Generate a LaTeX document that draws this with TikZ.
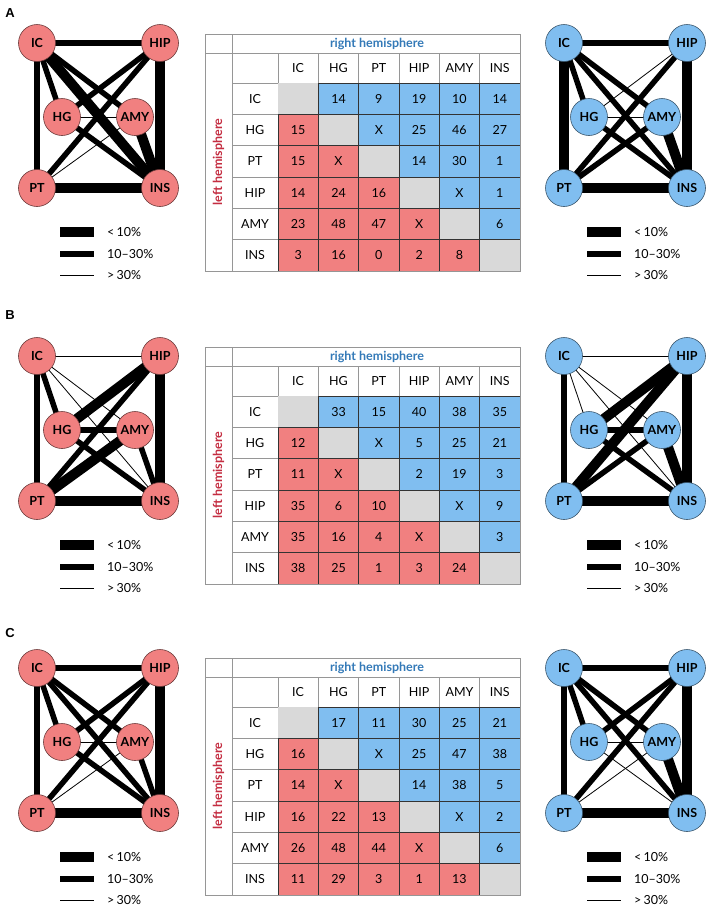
\documentclass[tikz,border=0pt]{standalone}
\usepackage{fontspec}
\setmainfont{Lato}
\newfontfamily\pfont{Liberation Sans}
\definecolor{nred}{RGB}{241,128,128}
\definecolor{nblue}{RGB}{128,190,240}
\definecolor{cgray}{RGB}{217,217,217}
\definecolor{tred}{RGB}{196,45,65}
\definecolor{tblue}{RGB}{52,122,184}
\definecolor{gline}{RGB}{150,150,150}
\tikzset{
  brain/.style={circle, minimum size=37pt, inner sep=0pt, font=\bfseries\fontsize{12.5}{14}\selectfont, draw=#1!45!black, fill=#1, line width=0.6pt},
  wA/.style={line width=10pt},
  wB/.style={line width=5.5pt},
  wC/.style={line width=0.8pt},
  celltext/.style={font=\fontsize{12.5}{14}\selectfont, inner sep=0pt},
  legtext/.style={font=\fontsize{12.5}{14}\selectfont, anchor=west, inner sep=0pt},
  plabel/.style={font=\pfont\bfseries\fontsize{13}{15}\selectfont, inner sep=0pt},
}
% #1 prefix, #2 dx, #3 dy, #4 colour, #5 edges
\newcommand\brainnet[5]{%
  \begin{scope}[shift={(#2,#3)}]
    \coordinate (#1IC) at (37,43);
    \coordinate (#1HIP) at (160,43);
    \coordinate (#1HG) at (62,117);
    \coordinate (#1AMY) at (135,117);
    \coordinate (#1PT) at (37,188);
    \coordinate (#1INS) at (160,188);
    \foreach \a/\b/\w in {#5} {\draw[\w] (#1\a) -- (#1\b);}
    \foreach \n in {IC,HIP,HG,AMY,PT,INS} {\node[brain=#4] (#1n\n) at (#1\n) {\n};}
    \coordinate (#1la) at (60,232);
    \coordinate (#1lb) at (94,232);
    \coordinate (#1ma) at (60,254);
    \coordinate (#1mb) at (94,254);
    \coordinate (#1sa) at (60,275);
    \coordinate (#1sb) at (94,275);
    \draw[line width=10pt] (#1la) -- (#1lb);
    \draw[line width=5.5pt] (#1ma) -- (#1mb);
    \draw[line width=0.8pt] (#1sa) -- (#1sb);
    \node[legtext] (#1lt1) at (107,232) {<\,10\%};
    \node[legtext] (#1lt2) at (107,254) {10--30\%};
    \node[legtext] (#1lt3) at (107,275) {>\,30\%};
  \end{scope}}
% #1 prefix, #2 dy, #3 rows
\newcommand\cmtable[3]{%
  \begin{scope}[shift={(0,#2)}]
    \foreach [count=\r] \row in {#3} {
      \foreach [count=\c] \v in \row {
        \pgfmathsetmacro\xa{278+(\c-1)*40.33}
        \pgfmathsetmacro\ya{83+(\r-1)*31.33}
        \ifnum\c>\r \def\cc{nblue}\else\ifnum\c<\r \def\cc{nred}\else\def\cc{cgray}\fi\fi
        \fill[\cc] (\xa,\ya) rectangle ++(40.33,31.33);
        \node[celltext] (#1t\r\c) at (\xa+20.17,\ya+15.67) {\ifnum\c=\r\else\v\fi};
      }
    }
    \foreach \r in {1,...,6} {
      \foreach \c in {1,...,6} {
        \pgfmathsetmacro\xa{278+(\c-1)*40.33}
        \pgfmathsetmacro\ya{83+(\r-1)*31.33}
        \ifnum\c=\r\else\draw[black!80, line width=0.5pt] (\xa,\ya) rectangle ++(40.33,31.33);\fi
      }
    }
    \draw[gline, line width=0.6pt] (205,34) rectangle (520,271);
    \draw[gline, line width=0.6pt] (205,53) -- (520,53);
    \draw[gline, line width=0.6pt] (232,34) -- (232,271);
    \draw[gline, line width=0.6pt] (232,83) -- (278,83);
    \foreach \k in {1,...,5} {\draw[gline, line width=0.6pt] (232,83+\k*31.33) -- (278,83+\k*31.33);}
    \foreach \k in {0,...,6} {\draw[gline, line width=0.6pt] (278+\k*40.33,53) -- (278+\k*40.33,83);}
    \node[font=\bfseries\fontsize{12.5}{14}\selectfont, text=tblue, inner sep=0pt] (#1rh) at (377,43.5) {right hemisphere};
    \node[font=\bfseries\fontsize{12.5}{14}\selectfont, text=tred, inner sep=0pt, rotate=90] (#1lh) at (218.5,162) {left hemisphere};
    \foreach [count=\k] \n in {IC,HG,PT,HIP,AMY,INS} {
      \node[celltext] (#1ch\k) at (278+\k*40.33-20.17,68) {\n};
      \node[celltext] (#1rl\k) at (255,83+\k*31.33-15.67) {\n};
    }
  \end{scope}}
\begin{document}
\begin{tikzpicture}[x=1pt,y=-1pt]
\useasboundingbox (0,0) rectangle (708,908);
\fill[white] (0,0) rectangle (708,908);
\node[plabel] (pA) at (10,13) {A};
\node[plabel] (pB) at (10,315) {B};
\node[plabel] (pC) at (10,633) {C};
% Panel A
\brainnet{al}{0}{0}{nred}{IC/HIP/wB,IC/PT/wB,IC/HG/wB,IC/AMY/wB,IC/INS/wA,HIP/INS/wA,HIP/HG/wB,HIP/PT/wB,HG/AMY/wC,HG/INS/wB,PT/AMY/wC,PT/INS/wA,AMY/INS/wA}
\brainnet{ar}{527}{0}{nblue}{IC/HIP/wB,IC/PT/wA,IC/HG/wB,IC/AMY/wB,IC/INS/wB,HIP/INS/wA,HIP/HG/wC,HIP/PT/wB,HG/AMY/wC,HG/INS/wB,PT/AMY/wB,PT/INS/wA,AMY/INS/wA}
\cmtable{at}{0}{{-,14,9,19,10,14},{15,-,X,25,46,27},{15,X,-,14,30,1},{14,24,16,-,X,1},{23,48,47,X,-,6},{3,16,0,2,8,-}}
% Panel B
\brainnet{bl}{0}{313}{nred}{IC/HG/wB,IC/PT/wB,IC/HIP/wC,HIP/HG/wA,HIP/PT/wB,IC/AMY/wC,HG/AMY/wB,PT/AMY/wA,IC/INS/wC,HG/INS/wB,PT/INS/wA,HIP/INS/wA,AMY/INS/wB}
\brainnet{br}{527}{313}{nblue}{IC/HG/wC,IC/PT/wB,IC/HIP/wC,IC/AMY/wC,IC/INS/wC,HG/HIP/wA,HG/AMY/wB,HG/INS/wB,PT/HIP/wA,PT/AMY/wB,PT/INS/wA,HIP/INS/wA,AMY/INS/wA}
\cmtable{bt}{313}{{-,33,15,40,38,35},{12,-,X,5,25,21},{11,X,-,2,19,3},{35,6,10,-,X,9},{35,16,4,X,-,3},{38,25,1,3,24,-}}
% Panel C
\brainnet{cl}{0}{625}{nred}{IC/HG/wB,IC/PT/wB,IC/HIP/wB,HIP/HG/wB,HIP/PT/wB,IC/AMY/wB,HG/AMY/wC,PT/AMY/wC,IC/INS/wB,HG/INS/wB,PT/INS/wA,HIP/INS/wA,AMY/INS/wB}
\brainnet{cr}{527}{625}{nblue}{IC/HG/wB,IC/PT/wB,IC/HIP/wB,IC/AMY/wB,IC/INS/wB,HG/HIP/wB,HG/AMY/wC,HG/INS/wC,PT/HIP/wB,PT/AMY/wC,PT/INS/wA,HIP/INS/wA,AMY/INS/wA}
\cmtable{ct}{624}{{-,17,11,30,25,21},{16,-,X,25,47,38},{14,X,-,14,38,5},{16,22,13,-,X,2},{26,48,44,X,-,6},{11,29,3,1,13,-}}
\end{tikzpicture}
\end{document}
